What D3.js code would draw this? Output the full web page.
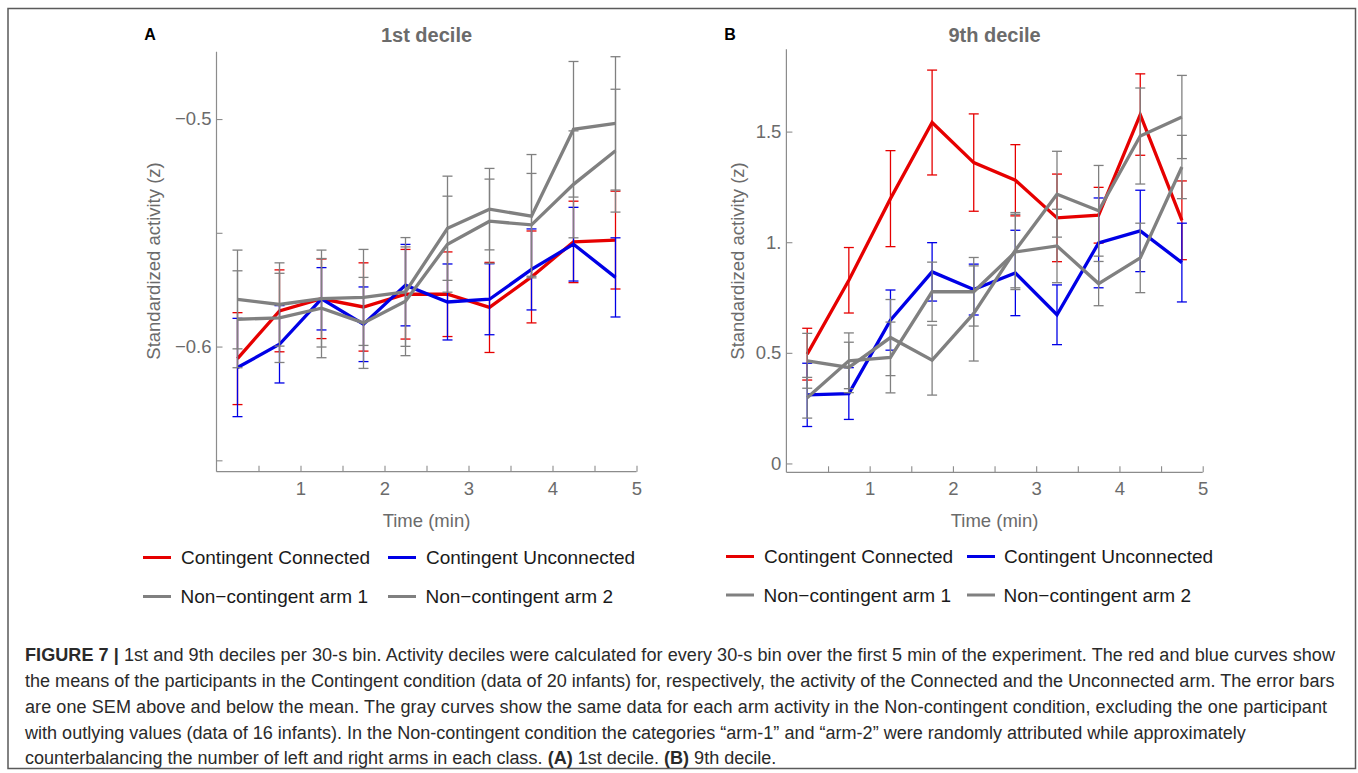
<!DOCTYPE html>
<html>
<head>
<meta charset="utf-8">
<script src="https://cdn.jsdelivr.net/npm/d3@7"></script>
<style>
  html, body { margin: 0; padding: 0; background: #fff; }
  svg { display: block; font-family: "Liberation Sans", Arial, sans-serif; }
</style>
</head>
<body>
<svg id="chart" width="1358" height="773"></svg>
<script>
// ---------------- DATA ----------------
const times = [0.25, 0.75, 1.25, 1.75, 2.25, 2.75, 3.25, 3.75, 4.25, 4.75];
const seriesNames = ["Contingent Connected", "Contingent Unconnected", "Non\u2212contingent arm 1", "Non\u2212contingent arm 2"];

// Panel A: 1st decile (means and SEM)
const aConnected      = [-0.6053, -0.5843, -0.579, -0.5826, -0.577, -0.577, -0.5828, -0.5694, -0.554, -0.5532];
const aConnectedSem   = [0.0202, 0.018, 0.0175, 0.0194, 0.0197, 0.0186, 0.0198, 0.0202, 0.0179, 0.0215];
const aUnconnected    = [-0.6092, -0.599, -0.579, -0.5902, -0.573, -0.5804, -0.5792, -0.5661, -0.555, -0.5696];
const aUnconnectedSem = [0.0216, 0.017, 0.0137, 0.0164, 0.0179, 0.0167, 0.0156, 0.0178, 0.0162, 0.0174];
const aArm1           = [-0.5793, -0.5815, -0.5789, -0.5784, -0.576, -0.548, -0.5396, -0.5427, -0.5045, -0.5019];
const aArm1Sem        = [0.0217, 0.0183, 0.0213, 0.0211, 0.0239, 0.0229, 0.0179, 0.0271, 0.0298, 0.0293];
const aArm2           = [-0.588, -0.5874, -0.5831, -0.5896, -0.5801, -0.555, -0.5449, -0.5465, -0.5287, -0.5139];
const aArm2Sem        = [0.0213, 0.0196, 0.0218, 0.02, 0.0239, 0.0211, 0.0185, 0.0226, 0.0235, 0.027];

// Panel B: 9th decile (means and SEM)
const bConnected      = [0.494, 0.828, 1.197, 1.541, 1.36, 1.28, 1.11, 1.122, 1.577, 1.099];
const bConnectedSem   = [0.117, 0.148, 0.217, 0.237, 0.22, 0.161, 0.198, 0.126, 0.184, 0.178];
const bUnconnected    = [0.31, 0.316, 0.648, 0.866, 0.786, 0.861, 0.672, 0.997, 1.051, 0.908];
const bUnconnectedSem = [0.143, 0.117, 0.136, 0.132, 0.115, 0.193, 0.135, 0.203, 0.184, 0.178];
const bArm1           = [0.464, 0.434, 0.569, 0.467, 0.678, 0.964, 1.217, 1.142, 1.48, 1.566];
const bArm1Sem        = [0.124, 0.114, 0.172, 0.158, 0.215, 0.17, 0.194, 0.205, 0.217, 0.188];
const bArm2           = [0.297, 0.464, 0.479, 0.776, 0.776, 0.956, 0.983, 0.813, 0.929, 1.34];
const bArm2Sem        = [0.092, 0.126, 0.16, 0.134, 0.155, 0.17, 0.166, 0.1, 0.157, 0.143];

// Ticks
const xMajorTicks = [1, 2, 3, 4, 5];
const xMinorTicks = [0.5, 1.5, 2.5, 3.5, 4.5];
const aYTicks = [-0.65, -0.6, -0.55, -0.5];
const aYTickLabels = ["", "\u22120.6", "", "\u22120.5"];
const bYTicks = [0, 0.5, 1, 1.5];
const bYTickLabels = ["0", "0.5", "1.", "1.5"];

const captionLines = [
  [["FIGURE 7 | ", true], ["1st and 9th deciles per 30-s bin. Activity deciles were calculated for every 30-s bin over the first 5 min of the experiment. The red and blue curves show", false]],
  [["the means of the participants in the Contingent condition (data of 20 infants) for, respectively, the activity of the Connected and the Unconnected arm. The error bars", false]],
  [["are one SEM above and below the mean. The gray curves show the same data for each arm activity in the Non-contingent condition, excluding the one participant", false]],
  [["with outlying values (data of 16 infants). In the Non-contingent condition the categories \u201Carm-1\u201D and \u201Carm-2\u201D were randomly attributed while approximately", false]],
  [["counterbalancing the number of left and right arms in each class. ", false], ["(A)", true], [" 1st decile. ", false], ["(B)", true], [" 9th decile.", false]]
];

// ---------------- STYLE / LAYOUT ----------------
const seriesColors = ["#e60000", "#0000e6", "#808080", "#808080"];
const axisColor = "#8c8c8c";
const labelColor = "#6b6b6b";

const svg = d3.select("#chart");

// outer frame
svg.append("rect").attr("x", 8).attr("y", 8.5).attr("width", 1347.5).attr("height", 760)
  .attr("fill", "none").attr("stroke", "#5a5a5a").attr("stroke-width", 1.5);

const panels = [
  {
    letter: "A", title: "1st decile",
    x0: 216.5, x1: 636.5, yTop: 51.7, yBot: 471.7,
    yDomain: [-0.655, -0.4704],
    yTicks: aYTicks, yLabels: aYTickLabels,
    series: [[aConnected, aConnectedSem], [aUnconnected, aUnconnectedSem], [aArm1, aArm1Sem], [aArm2, aArm2Sem]],
    letterX: 150, yLabelX: 153,
    legendX: [143, 388], legendTextX: [181, 426], legendY: [557.5, 596.5]
  },
  {
    letter: "B", title: "9th decile",
    x0: 786.4, x1: 1202.7, yTop: 49.3, yBot: 472.3,
    yDomain: [-0.04, 1.872],
    yTicks: bYTicks, yLabels: bYTickLabels,
    series: [[bConnected, bConnectedSem], [bUnconnected, bUnconnectedSem], [bArm1, bArm1Sem], [bArm2, bArm2Sem]],
    letterX: 730, yLabelX: 737,
    legendX: [726, 967], legendTextX: [764, 1004], legendY: [556.5, 595]
  }
];

panels.forEach(p => {
  const x = d3.scaleLinear().domain([0, 5]).range([p.x0, p.x1]);
  const y = d3.scaleLinear().domain(p.yDomain).range([p.yBot, p.yTop]);
  const g = svg.append("g");

  // X axis (ticks pointing inward/up)
  const xAxis = d3.axisBottom(x).tickValues(xMajorTicks).tickSizeInner(-6).tickSizeOuter(0)
    .tickPadding(12).tickFormat(d3.format("d"));
  const xg = g.append("g").attr("transform", `translate(0,${p.yBot})`).call(xAxis);
  const xMinor = d3.axisBottom(x).tickValues(xMinorTicks).tickSizeInner(-6).tickSizeOuter(0).tickFormat("");
  const xmg = g.append("g").attr("transform", `translate(0,${p.yBot})`).call(xMinor);
  xmg.select(".domain").remove();

  // Y axis (ticks inward/right)
  const yAxis = d3.axisLeft(y).tickValues(p.yTicks).tickSizeInner(-6).tickSizeOuter(0)
    .tickPadding(5).tickFormat((d, i) => p.yLabels[i]);
  const yg = g.append("g").attr("transform", `translate(${p.x0},0)`).call(yAxis);

  [xg, xmg, yg].forEach(a => {
    a.select(".domain").attr("stroke", axisColor).attr("stroke-width", 1.2);
    a.selectAll(".tick line").attr("stroke", axisColor).attr("stroke-width", 1.1);
    a.selectAll(".tick text").attr("fill", labelColor).attr("font-size", 18.5)
      .attr("font-family", "'Liberation Sans', Arial, sans-serif");
  });
  xg.select(".domain").attr("d", `M${p.x0},0H${p.x1}`);
  yg.select(".domain").attr("d", `M0,${p.yBot}V${p.yTop}`);
  xg.selectAll(".tick text").attr("dy", "0.75em").attr("y", 9);

  // Titles and labels
  g.append("text").attr("x", (p.x0 + p.x1) / 2).attr("y", 42).attr("text-anchor", "middle")
    .attr("font-size", 20).attr("font-weight", "bold").attr("fill", labelColor).text(p.title);
  g.append("text").attr("x", p.letterX).attr("y", 40).attr("text-anchor", "middle")
    .attr("font-size", 16).attr("font-weight", "bold").attr("fill", "#000").text(p.letter);
  g.append("text").attr("x", (p.x0 + p.x1) / 2).attr("y", 526.5).attr("text-anchor", "middle")
    .attr("font-size", 18.5).attr("fill", labelColor).text("Time (min)");
  g.append("text").attr("transform", `translate(${p.yLabelX + 6.5},${261}) rotate(-90)`)
    .attr("text-anchor", "middle").attr("font-size", 18.5).attr("fill", labelColor)
    .text("Standardized activity (z)");

  // Series: error bars + lines
  const line = d3.line().x(d => x(d.t)).y(d => y(d.v));
  p.series.forEach((s, si) => {
    const pts = times.map((t, i) => ({ t, v: s[0][i], e: s[1][i] }));
    const col = seriesColors[si];
    const eg = g.append("g").attr("stroke", col).attr("stroke-width", 1.3).attr("fill", "none");
    pts.forEach(d => {
      const cx = x(d.t), yh = y(d.v + d.e), yl = y(d.v - d.e);
      eg.append("line").attr("x1", cx).attr("x2", cx).attr("y1", yh).attr("y2", yl);
      eg.append("line").attr("x1", cx - 5).attr("x2", cx + 5).attr("y1", yh).attr("y2", yh);
      eg.append("line").attr("x1", cx - 5).attr("x2", cx + 5).attr("y1", yl).attr("y2", yl);
    });
    g.append("path").datum(pts).attr("d", line).attr("fill", "none")
      .attr("stroke", col).attr("stroke-width", 3.3).attr("stroke-linejoin", "miter");
  });

  // Legend
  seriesNames.forEach((name, si) => {
    const col = si % 2, row = Math.floor(si / 2);
    const lx = p.legendX[col], ly = p.legendY[row];
    g.append("line").attr("x1", lx).attr("x2", lx + 28).attr("y1", ly).attr("y2", ly)
      .attr("stroke", seriesColors[si]).attr("stroke-width", 3);
    g.append("text").attr("x", p.legendTextX[col] - (row === 1 ? 0.5 : 0)).attr("y", ly).attr("dy", "0.35em")
      .attr("font-size", 19).attr("fill", "#1a1a1a").text(name);
  });
});

// Caption (lines 1-3 are justified to the measured width; lines 4-5 are ragged)
const capG = svg.append("g").attr("fill", "#2a2a2a");
const baselines = [661, 687, 713, 738.5, 764];
const justifiedWidths = [1310, 1310, 1302, null, null];
const capTexts = captionLines.map((parts, li) => {
  const t = capG.append("text").attr("x", 25).attr("y", baselines[li]).attr("font-size", 16);
  parts.forEach(([s, bold]) => {
    t.append("tspan").attr("font-weight", bold ? "bold" : "normal").text(s);
  });
  return t;
});
// base size from the last line (measured to span 752 px)
const w5 = capTexts[4].node().getComputedTextLength();
const capSize = 16 * 752 / w5;
capTexts.forEach((t, i) => {
  t.attr("font-size", capSize);
  const target = justifiedWidths[i];
  if (target) {
    const w = t.node().getComputedTextLength();
    if (Math.abs(w - target) > 3) t.attr("textLength", target).attr("lengthAdjust", "spacing");
  }
});
</script>
</body>
</html>
